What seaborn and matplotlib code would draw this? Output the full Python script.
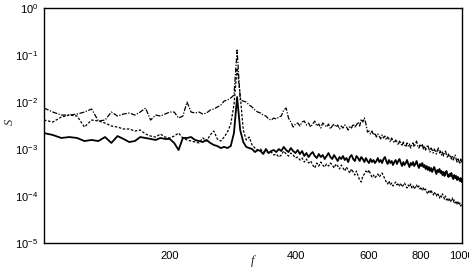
import matplotlib
matplotlib.use("Agg")
import matplotlib.pyplot as plt
import matplotlib.ticker as mticker
import seaborn as sns
import pandas as pd

# frequency grid (Hz)
freq = list(range(100, 1001, 5))

# solid line
s_solid = [
    2.19e-3, 1.99e-3, 1.72e-3, 1.80e-3, 1.72e-3, 1.48e-3, 1.56e-3, 1.48e-3, 1.80e-3, 1.35e-3,
    1.89e-3, 1.64e-3, 1.41e-3, 1.48e-3, 1.80e-3, 1.72e-3, 1.64e-3, 1.56e-3, 1.72e-3, 1.64e-3,
    1.64e-3, 1.35e-3, 9.52e-4, 1.72e-3, 1.72e-3, 1.80e-3, 1.56e-3, 1.48e-3, 1.41e-3, 1.56e-3,
    1.35e-3, 1.22e-3, 1.16e-3, 1.05e-3, 1.11e-3, 1.05e-3, 1.16e-3, 2.19e-3, 1.28e-2, 2.54e-3,
    1.41e-3, 1.11e-3, 1.05e-3, 1.00e-3, 8.63e-4, 9.52e-4, 9.07e-4, 7.83e-4, 1.00e-3, 8.22e-4,
    9.07e-4, 9.52e-4, 8.63e-4, 1.00e-3, 9.07e-4, 1.11e-3, 9.52e-4, 8.63e-4, 1.05e-3, 9.07e-4,
    8.22e-4,
    9.52e-4, 7.83e-4, 9.07e-4, 7.10e-4, 8.22e-4, 6.76e-4, 7.83e-4, 8.63e-4, 7.10e-4, 6.44e-4,
    7.83e-4, 6.76e-4, 7.46e-4, 6.13e-4, 7.10e-4, 8.22e-4, 6.76e-4, 6.13e-4, 7.46e-4, 6.44e-4,
    5.56e-4, 6.76e-4, 6.13e-4, 7.10e-4, 5.84e-4, 6.44e-4, 5.29e-4, 6.76e-4, 7.46e-4, 6.13e-4,
    5.56e-4, 7.10e-4, 6.44e-4, 5.56e-4, 6.76e-4, 6.13e-4, 5.29e-4, 6.44e-4, 5.56e-4, 5.04e-4,
    6.13e-4, 5.29e-4, 5.84e-4, 5.04e-4, 5.56e-4, 6.44e-4, 5.29e-4, 5.84e-4, 5.04e-4, 6.13e-4,
    6.76e-4, 5.56e-4, 4.80e-4, 5.84e-4, 5.04e-4, 5.56e-4, 4.57e-4, 5.29e-4, 5.84e-4, 4.80e-4,
    5.56e-4, 6.13e-4, 5.04e-4, 4.35e-4, 5.29e-4, 4.57e-4, 5.04e-4, 5.84e-4, 4.80e-4, 4.14e-4,
    5.04e-4, 4.57e-4, 5.29e-4, 4.35e-4, 4.80e-4, 5.56e-4, 4.57e-4, 3.95e-4, 4.80e-4, 4.35e-4,
    5.04e-4, 4.14e-4, 4.57e-4, 3.76e-4, 4.35e-4, 3.58e-4, 4.14e-4, 3.41e-4, 3.95e-4, 3.25e-4,
    3.76e-4, 4.14e-4, 3.41e-4, 2.94e-4, 3.58e-4, 3.25e-4, 3.76e-4, 3.09e-4, 3.41e-4, 2.80e-4,
    3.25e-4, 2.67e-4, 3.09e-4, 3.41e-4, 2.80e-4, 2.54e-4, 2.94e-4, 2.67e-4, 3.09e-4, 2.54e-4,
    2.30e-4, 2.80e-4, 2.42e-4, 2.67e-4, 2.19e-4, 2.54e-4, 2.30e-4, 2.09e-4, 2.42e-4, 1.99e-4,
]

# dashed line
s_dashed = [
    4.14e-3, 3.76e-3, 4.80e-3, 5.29e-3, 5.04e-3, 2.94e-3, 4.14e-3, 3.95e-3, 3.58e-3, 3.09e-3,
    2.94e-3, 2.67e-3, 2.67e-3, 2.42e-3, 2.54e-3, 2.09e-3, 1.89e-3, 1.80e-3, 2.09e-3, 1.80e-3,
    1.72e-3, 1.89e-3, 2.19e-3, 1.72e-3, 1.56e-3, 1.48e-3, 1.41e-3, 1.35e-3, 1.72e-3, 1.48e-3,
    1.99e-3, 2.42e-3, 1.64e-3, 1.48e-3, 1.80e-3, 2.30e-3, 3.41e-3, 8.63e-3, 5.29e-2, 1.41e-2,
    2.54e-3, 1.56e-3, 1.80e-3, 1.22e-3, 1.05e-3, 9.52e-4, 1.00e-3, 8.63e-4, 9.07e-4, 8.22e-4,
    8.63e-4, 7.46e-4, 7.83e-4, 6.76e-4, 7.46e-4, 9.07e-4, 7.83e-4, 7.10e-4, 8.22e-4, 7.46e-4,
    6.44e-4,
    6.76e-4, 5.84e-4, 6.44e-4, 5.29e-4, 6.13e-4, 5.04e-4, 5.56e-4, 4.57e-4, 3.95e-4, 5.04e-4,
    4.35e-4, 5.29e-4, 4.57e-4, 4.14e-4, 4.80e-4, 4.35e-4, 5.04e-4, 4.57e-4, 3.95e-4, 4.80e-4,
    4.35e-4, 3.76e-4, 4.57e-4, 3.95e-4, 3.41e-4, 4.14e-4, 3.58e-4, 3.09e-4, 3.76e-4, 3.25e-4,
    2.80e-4, 3.41e-4, 2.67e-4, 2.19e-4, 1.99e-4, 2.67e-4, 2.94e-4, 3.41e-4, 3.09e-4, 3.58e-4,
    2.94e-4, 2.54e-4, 2.80e-4, 2.42e-4, 2.67e-4, 2.94e-4, 2.54e-4, 2.80e-4, 3.09e-4, 2.67e-4,
    2.30e-4, 1.99e-4, 1.80e-4, 2.09e-4, 1.72e-4, 1.89e-4, 1.64e-4, 1.80e-4, 1.99e-4, 1.72e-4,
    1.89e-4, 1.64e-4, 1.80e-4, 1.56e-4, 1.72e-4, 1.89e-4, 1.64e-4, 1.48e-4, 1.72e-4, 1.56e-4,
    1.80e-4, 1.48e-4, 1.64e-4, 1.41e-4, 1.56e-4, 1.72e-4, 1.48e-4, 1.64e-4, 1.41e-4, 1.56e-4,
    1.35e-4, 1.48e-4, 1.28e-4, 1.41e-4, 1.22e-4, 1.11e-4, 1.28e-4, 1.16e-4, 1.35e-4, 1.16e-4,
    1.05e-4, 1.22e-4, 1.11e-4, 1.00e-4, 1.16e-4, 1.05e-4, 9.07e-5, 1.05e-4, 9.52e-5, 1.11e-4,
    9.52e-5, 8.63e-5, 1.00e-4, 8.22e-5, 9.07e-5, 7.83e-5, 8.63e-5, 7.46e-5, 8.22e-5, 9.07e-5,
    7.46e-5, 8.22e-5, 7.10e-5, 7.83e-5, 6.76e-5, 7.46e-5, 6.44e-5, 7.10e-5, 6.13e-5, 6.76e-5,
]

# dash-dot line
s_dashdot = [
    7.46e-3, 6.13e-3, 5.29e-3, 5.29e-3, 5.56e-3, 6.13e-3, 7.10e-3, 3.95e-3, 4.14e-3, 6.13e-3,
    5.04e-3, 5.56e-3, 5.84e-3, 5.29e-3, 6.13e-3, 7.46e-3, 4.14e-3, 5.29e-3, 5.04e-3, 5.56e-3,
    6.13e-3, 6.13e-3, 4.57e-3, 5.04e-3, 1.00e-2, 6.13e-3, 5.84e-3, 6.13e-3, 5.56e-3, 5.84e-3,
    6.76e-3, 7.10e-3, 7.83e-3, 8.63e-3, 1.05e-2, 1.11e-2, 1.22e-2, 1.41e-2, 1.28e-1, 1.11e-2,
    1.05e-2, 1.00e-2, 8.63e-3, 7.83e-3, 6.76e-3, 6.13e-3, 5.84e-3, 5.29e-3, 5.04e-3, 4.35e-3,
    4.14e-3, 4.57e-3, 4.35e-3, 4.80e-3, 5.04e-3, 6.76e-3, 7.46e-3, 4.57e-3, 3.76e-3, 2.94e-3,
    3.41e-3,
    3.58e-3, 3.09e-3, 3.76e-3, 3.95e-3, 3.25e-3, 3.58e-3, 2.94e-3, 3.41e-3, 3.95e-3, 3.09e-3,
    3.41e-3, 2.80e-3, 3.58e-3, 3.25e-3, 2.94e-3, 3.41e-3, 2.67e-3, 3.09e-3, 3.41e-3, 2.94e-3,
    3.25e-3, 2.67e-3, 3.09e-3, 2.80e-3, 3.25e-3, 2.94e-3, 2.54e-3, 3.09e-3, 2.80e-3, 3.41e-3,
    2.94e-3, 3.25e-3, 3.76e-3, 3.09e-3, 4.35e-3, 3.76e-3, 4.57e-3, 3.41e-3, 2.30e-3, 2.42e-3,
    2.09e-3, 2.42e-3, 1.99e-3, 2.19e-3, 1.80e-3, 2.09e-3, 1.89e-3, 1.64e-3, 1.99e-3, 1.72e-3,
    1.89e-3, 1.56e-3, 1.80e-3, 1.64e-3, 1.41e-3, 1.72e-3, 1.48e-3, 1.35e-3, 1.56e-3, 1.41e-3,
    1.22e-3, 1.48e-3, 1.35e-3, 1.16e-3, 1.41e-3, 1.22e-3, 1.11e-3, 1.35e-3, 1.16e-3, 1.28e-3,
    1.05e-3, 1.22e-3, 1.35e-3, 1.11e-3, 1.28e-3, 1.48e-3, 1.16e-3, 1.05e-3, 1.22e-3, 1.11e-3,
    1.28e-3, 1.00e-3, 1.16e-3, 9.52e-4, 1.11e-3, 1.22e-3, 1.00e-3, 8.63e-4, 1.05e-3, 9.52e-4,
    8.22e-4, 1.00e-3, 9.07e-4, 7.83e-4, 9.52e-4, 1.05e-3, 8.22e-4, 9.07e-4, 7.46e-4, 8.63e-4,
    7.10e-4, 8.22e-4, 9.07e-4, 7.46e-4, 6.44e-4, 7.83e-4, 6.76e-4, 7.46e-4, 6.13e-4, 7.10e-4,
    5.84e-4, 6.76e-4, 7.46e-4, 6.13e-4, 5.29e-4, 6.44e-4, 5.56e-4, 4.80e-4, 6.13e-4, 5.04e-4,
]

x_major = [200, 400, 600, 800, 1000]
x_major_labels = ["200", "400", "600", "800", "1000"]
y_major = [1e-5, 1e-4, 1e-3, 1e-2, 1e-1, 1e0]
y_major_labels = [r"$\mathregular{10^{-5}}$", r"$\mathregular{10^{-4}}$", r"$\mathregular{10^{-3}}$",
                  r"$\mathregular{10^{-2}}$", r"$\mathregular{10^{-1}}$", r"$\mathregular{10^{0}}$"]

df = pd.DataFrame({"f": freq, "solid": s_solid, "dashed": s_dashed, "dashdot": s_dashdot})

sns.set_style("white")
plt.rcParams["font.family"] = ["Liberation Sans", "DejaVu Sans"]
plt.rcParams["mathtext.fontset"] = "custom"
plt.rcParams["mathtext.rm"] = "Liberation Sans"

fig = plt.figure(figsize=(4.69, 2.70), dpi=100)
ax = fig.add_axes([0.0938, 0.100, 0.8905, 0.870])

sns.lineplot(data=df, x="f", y="dashdot", ax=ax, color="black", linewidth=0.9,
             linestyle=(0, (4, 1.2, 1, 1.2)))
sns.lineplot(data=df, x="f", y="dashed", ax=ax, color="black", linewidth=0.9,
             linestyle=(0, (2, 1.3)))
sns.lineplot(data=df, x="f", y="solid", ax=ax, color="black", linewidth=1.3,
             linestyle="-")

ax.set_xscale("log")
ax.set_yscale("log")
ax.set_xlim(100, 1000)
ax.set_ylim(1e-5, 1e0)

ax.xaxis.set_major_locator(mticker.FixedLocator(x_major))
ax.xaxis.set_major_formatter(mticker.FixedFormatter(x_major_labels))
ax.xaxis.set_minor_locator(mticker.FixedLocator(list(range(100, 1001, 50))))
ax.xaxis.set_minor_formatter(mticker.NullFormatter())

ax.yaxis.set_major_locator(mticker.FixedLocator(y_major))
ax.yaxis.set_major_formatter(mticker.FixedFormatter(y_major_labels))
ax.yaxis.set_minor_locator(mticker.LogLocator(base=10, subs=range(2, 10), numticks=20))
ax.yaxis.set_minor_formatter(mticker.NullFormatter())

ax.tick_params(axis="both", which="major", direction="in", length=3.5, width=0.8,
               labelsize=8, colors="black", pad=4)
ax.tick_params(axis="both", which="minor", direction="in", length=2, width=0.6)
ax.tick_params(axis="x", pad=6)

for sp in ax.spines.values():
    sp.set_visible(True)
    sp.set_color("black")
    sp.set_linewidth(1.0)

ax.set_xlabel("")
ax.set_ylabel("")
fig.text(253 / 469, 1 - 261 / 270, "f", fontsize=9, fontstyle="italic",
         family="Liberation Serif", ha="center", va="center")
fig.text(10 / 469, 1 - 122 / 270, "S", fontsize=9, fontstyle="italic",
         family="Liberation Serif", ha="center", va="center", rotation=90)

fig.savefig("out.png", dpi=100)
